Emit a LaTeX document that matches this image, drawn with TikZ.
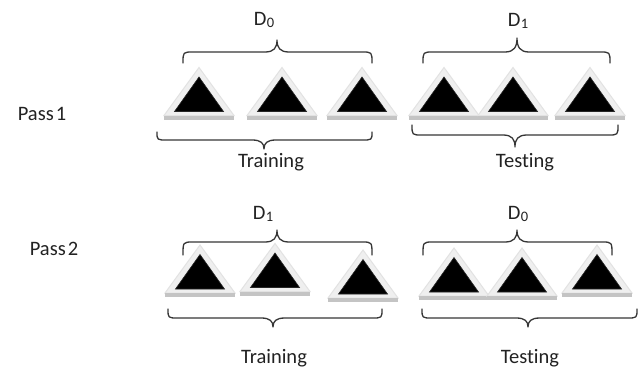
\documentclass[tikz,border=0pt]{standalone}
\usepackage{fontspec}
\setmainfont{Carlito}[Ligatures={NoCommon}]
\definecolor{txt}{HTML}{222222}
\definecolor{brc}{HTML}{363636}
\definecolor{trishell}{HTML}{EFEFEF}
\definecolor{triedge}{HTML}{E2E2E2}
\definecolor{tribar}{HTML}{C4C4C4}
% D with a numeric subscript
\newcommand\dsub[1]{D\kern0.3pt\raisebox{-0.12em}{\fontsize{14.5}{14.5}\selectfont #1}}
% curly brace: x1, x2, y of ends, y of bar, x of tip, y of tip
\newcommand\cbrace[6]{%
  \draw[brc] (#1,#3) .. controls (#1,#4) .. ({#1+10},#4) -- ({#5-12},#4)
    .. controls ({#5-3},#4) and (#5,{#4+0.35*(#6-#4)}) .. (#5,#6)
    .. controls (#5,{#4+0.35*(#6-#4)}) and ({#5+3},#4) .. ({#5+12},#4)
    -- ({#2-10},#4) .. controls (#2,#4) .. (#2,#3);}
\begin{document}
\begin{tikzpicture}[x=1pt,y=-1pt,
  lbl/.style={font=\fontsize{20.5}{21}\selectfont, text=txt, inner sep=0pt, anchor=base},
  brc/.style={draw=brc, line width=1.3pt, line cap=round, line join=round},
  tri/.pic={
    \filldraw[fill=trishell, draw=triedge, line width=1pt] (-35,0) -- (0,-48) -- (35,0) -- cycle;
    \fill[tribar] (-35,0) rectangle (35,4);
    \filldraw[fill=black, draw=black!85, line width=0.6pt] (-24.5,-4) -- (0,-38.5) -- (24.5,-4) -- cycle;
  }]
\useasboundingbox (0,0) rectangle (640,367);
\fill[white] (0,0) rectangle (640,367);

% ---- Pass 1 ----
\node[lbl] (p1) at (42,120) {Pass\kern2pt 1};
\foreach \x in {199,282,362,444,513,590} \pic at (\x,115.5) {tri};
\cbrace{183}{372}{63}{52}{277}{40}
\cbrace{423}{610}{63}{52}{517}{38}
\node[lbl] (d0a) at (264,25) {\dsub{0}};
\node[lbl] (d1a) at (518,26) {\dsub{1}};
\cbrace{157}{372}{132}{140}{264}{149}
\cbrace{412}{618}{125}{135}{515}{147}
\node[lbl] (tr1) at (271,167) {Training};
\node[lbl] (te1) at (525,167) {Testing};

% ---- Pass 2 ----
\node[lbl] (p2) at (54,255) {Pass\kern2pt 2};
\pic at (200,293) {tri};
\pic at (275,291.5) {tri};
\pic at (363,298) {tri};
\pic at (454,296) {tri};
\pic at (522,296) {tri};
\pic at (597,293) {tri};
\cbrace{183}{372}{255}{242}{277}{230}
\cbrace{423}{612}{255}{242}{517}{230}
\node[lbl] (d1b) at (263,219) {\dsub{1}};
\node[lbl] (d0b) at (518,219) {\dsub{0}};
\cbrace{168}{382}{309}{318}{273}{327}
\cbrace{422}{637}{309}{318}{528}{327}
\node[lbl] (tr2) at (274,363) {Training};
\node[lbl] (te2) at (530,363) {Testing};
\end{tikzpicture}
\end{document}
